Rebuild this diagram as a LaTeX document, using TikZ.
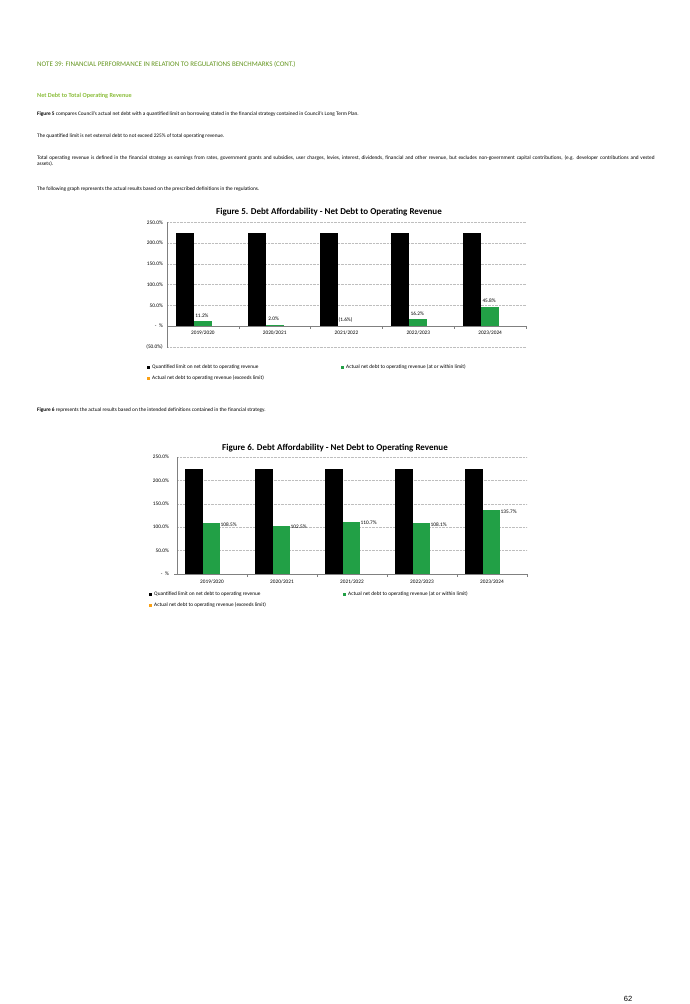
\documentclass[tikz,border=0pt]{standalone}
\usepackage{fontspec}
\setmainfont{Carlito}
\newfontfamily\arialf{Liberation Sans}
\definecolor{hdgreen}{RGB}{100,150,30}
\definecolor{subgreen}{RGB}{140,190,60}
\definecolor{bargreen}{RGB}{34,160,70}
\definecolor{barorange}{RGB}{250,160,20}
\definecolor{gridc}{RGB}{190,190,190}
\begin{document}
\begin{tikzpicture}[x=1pt,y=-1pt,
  body/.style={anchor=west,inner sep=0,font=\fontsize{5.3}{6.6}\selectfont},
  ax/.style={inner sep=0,font=\fontsize{5.3}{6}\selectfont},
  ttl/.style={inner sep=0,font=\fontsize{9}{10}\selectfont\bfseries},
  grid/.style={gridc,densely dotted,line width=0.4pt},
  axis/.style={gray,line width=0.5pt},
  blk/.style={fill=black,draw=none},
  grn/.style={fill=bargreen,draw=none}]
\useasboundingbox (0,0) rectangle (689,1004);
\fill[white] (0,0) rectangle (689,1004);
% header texts
\node[body,font=\fontsize{7}{8}\selectfont,text=hdgreen] (h1) at (37,64) {NOTE 39: FINANCIAL PERFORMANCE IN RELATION TO REGULATIONS BENCHMARKS (CONT.)};
\node[body,font=\fontsize{6.2}{7}\selectfont\bfseries,text=subgreen] (h2) at (37,96) {Net Debt to Total Operating Revenue};
\node[body] (p1) at (37,114) {\textbf{Figure 5} compares Council's actual net debt with a quantified limit on borrowing stated in the financial strategy contained in Council's Long Term Plan.};
\node[body] (p2) at (37,136) {The quantified limit is net external debt to not exceed 225\% of total operating revenue.};
\node[body,anchor=north west,text width=625pt] (p3) at (37,155) {Total operating revenue is defined in the financial strategy as earnings from rates, government grants and subsidies, user charges, levies, interest, dividends, financial and other revenue, but excludes non-government capital contributions, (e.g. developer contributions and vested assets).};
\node[body] (p4) at (37,189) {The following graph represents the actual results based on the prescribed definitions in the regulations.};
% ---------- Chart 1 ----------
\def\za{326}\def\ka{0.4144}\def\xa{167}\def\wa{71.8}
\node[ttl] (t1) at (329,212) {Figure 5. Debt Affordability - Net Debt to Operating Revenue};
\foreach \v/\l in {250/250.0\%,200/200.0\%,150/150.0\%,100/100.0\%,50/50.0\%,-50/(50.0\%)}{
  \draw[grid] (\xa,\za-\v*\ka) -- (526,\za-\v*\ka);
  \node[ax,anchor=east] at (\xa-4,\za-\v*\ka) {\l};}
\node[ax,anchor=east] at (\xa-4,\za) {-\ \ \%};
\foreach \i/\yr/\v/\l in {0/2019\slash 2020/11.2/11.2\%,1/2020\slash 2021/2.0/2.0\%,2/2021\slash 2022/-1.6/(1.6\%),3/2022\slash 2023/16.2/16.2\%,4/2023\slash 2024/45.8/45.8\%}{
  \pgfmathsetmacro\c{\xa+(\i+0.5)*\wa}
  \fill[blk] (\c-27,\za) rectangle (\c-9,\za-225*\ka);
  \fill[grn] (\c-9,\za) rectangle (\c+9,\za-\v*\ka);
  \pgfmathsetmacro\top{min(\za-\v*\ka,\za)}
  \node[ax,anchor=south] at (\c-1,\top-4) {\l};
  \node[ax] at (\c,333) {\yr};
  \draw[axis] (\xa+\i*\wa+\wa,\za) -- ++(0,3);}
\draw[axis] (\xa,\za+21.5) -- (\xa,\za-250*\ka);
\draw[axis] (\xa,\za) -- (526,\za);
\fill[black] (147,366) rectangle (150,369);
\node[ax,anchor=west] at (152,367.5) {Quantified limit on net debt to operating revenue};
\fill[bargreen] (341,366) rectangle (344,369);
\node[ax,anchor=west] at (346,367.5) {Actual net debt to operating revenue (at or within limit)};
\fill[barorange] (147,377) rectangle (150,380);
\node[ax,anchor=west] at (152,378.5) {Actual net debt to operating revenue (exceeds limit)};
\node[body] (p5) at (37,410) {\textbf{Figure 6} represents the actual results based on the intended definitions contained in the financial strategy.};
% ---------- Chart 2 ----------
\def\zb{574}\def\kb{0.468}\def\xb{177}\def\wb{70}
\node[ttl] (t2) at (335,448) {Figure 6. Debt Affordability - Net Debt to Operating Revenue};
\foreach \v/\l in {250/250.0\%,200/200.0\%,150/150.0\%,100/100.0\%,50/50.0\%}{
  \draw[grid] (\xb,\zb-\v*\kb) -- (527,\zb-\v*\kb);
  \node[ax,anchor=east] at (\xb-8,\zb-\v*\kb) {\l};}
\node[ax,anchor=east] at (\xb-8,\zb) {-\ \ \%};
\foreach \i/\yr/\v/\l in {0/2019\slash 2020/108.5/108.5\%,1/2020\slash 2021/102.5/102.5\%,2/2021\slash 2022/110.7/110.7\%,3/2022\slash 2023/108.1/108.1\%,4/2023\slash 2024/135.7/135.7\%}{
  \pgfmathsetmacro\c{\xb+(\i+0.5)*\wb}
  \fill[blk] (\c-27,\zb) rectangle (\c-9,\zb-225*\kb);
  \fill[grn] (\c-9,\zb) rectangle (\c+8,\zb-\v*\kb);
  \node[ax,anchor=west] at (\c+8.5,\zb-\v*\kb+1) {\l};
  \node[ax] at (\c,582) {\yr};
  \draw[axis] (\xb+\i*\wb+\wb,\zb) -- ++(0,3);}
\draw[axis] (\xb,\zb) -- (\xb,\zb-250*\kb);
\draw[axis] (\xb-3,\zb) -- (527,\zb);
\fill[black] (149,592.5) rectangle (152,595.5);
\node[ax,anchor=west] at (154,594) {Quantified limit on net debt to operating revenue};
\fill[bargreen] (343,592.5) rectangle (346,595.5);
\node[ax,anchor=west] at (348,594) {Actual net debt to operating revenue (at or within limit)};
\fill[barorange] (149,603.5) rectangle (152,606.5);
\node[ax,anchor=west] at (154,605) {Actual net debt to operating revenue (exceeds limit)};
\node[inner sep=0,font=\arialf\fontsize{7.5}{8}\selectfont] (pg) at (628,999) {62};
\end{tikzpicture}
\end{document}
